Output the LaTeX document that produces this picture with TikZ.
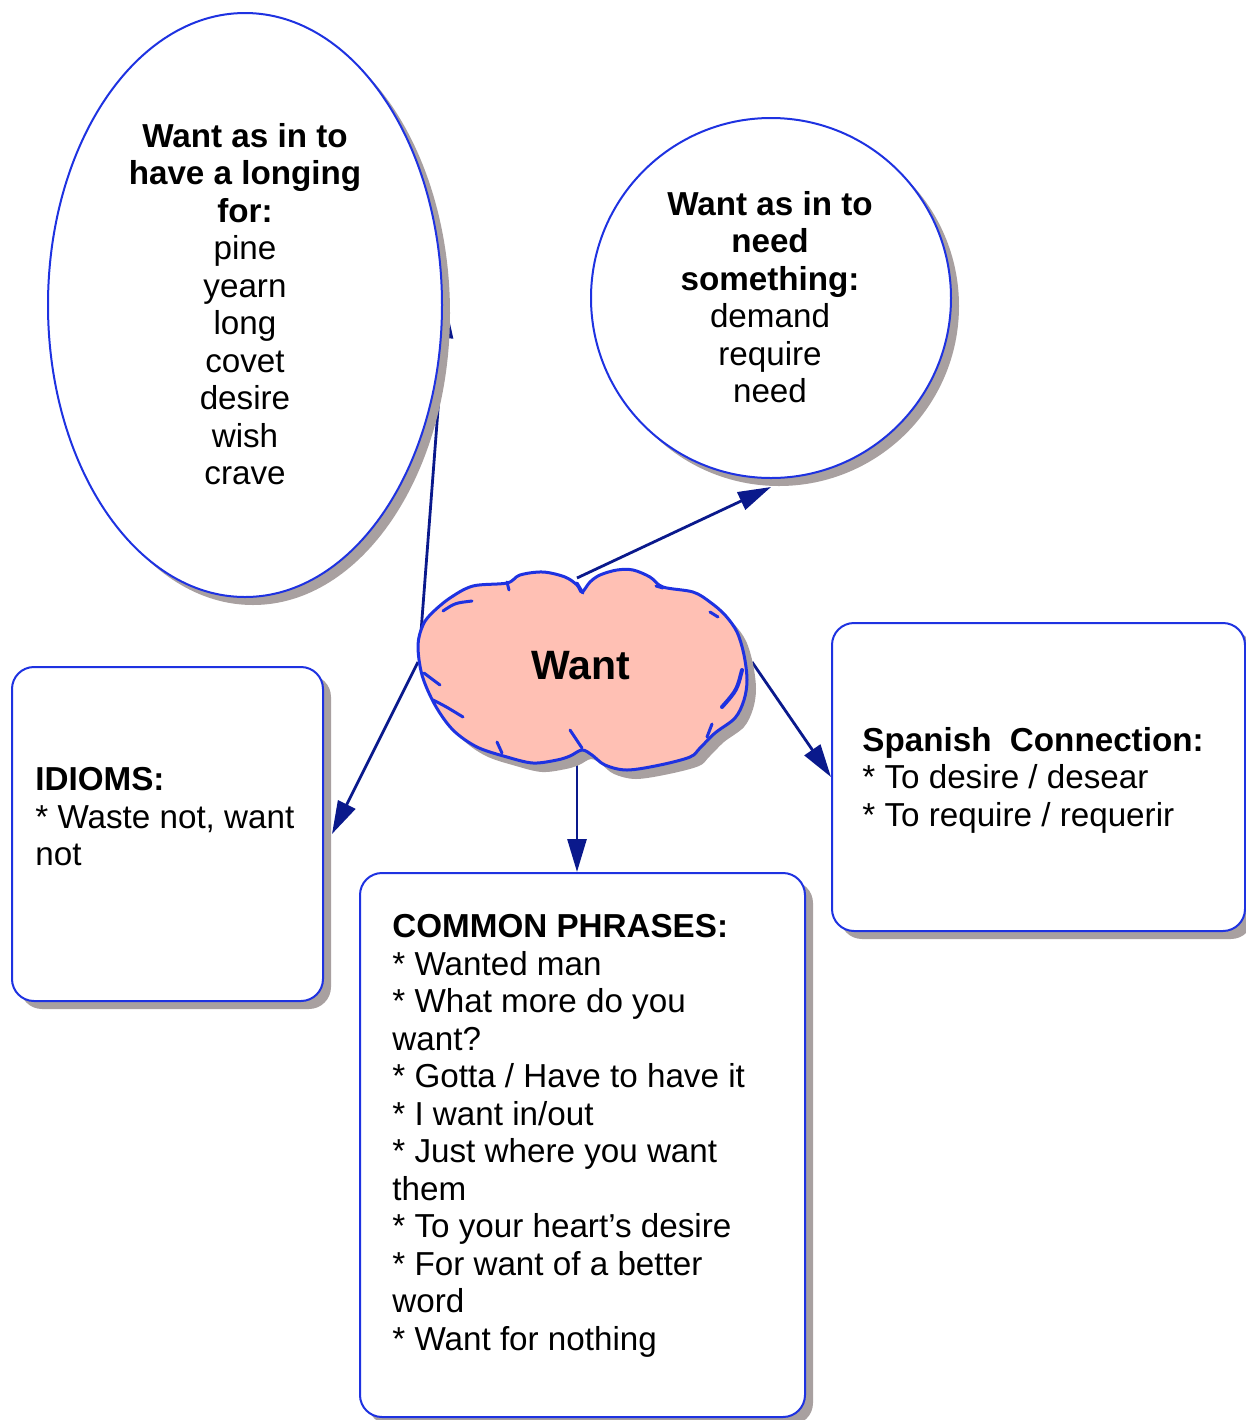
\documentclass[tikz,border=0pt]{standalone}
\usepackage{fontspec}
\setmainfont{Liberation Sans}
\usetikzlibrary{shapes.geometric,shadows,arrows.meta}
\pgfdeclarelayer{bg}
\pgfsetlayers{bg,main}
\definecolor{bordblue}{RGB}{30,50,225}
\definecolor{navy}{RGB}{10,25,140}
\definecolor{shadowgray}{RGB}{168,160,160}
\definecolor{cloudfill}{RGB}{255,192,180}
\tikzset{
  bord/.style={draw=bordblue, line width=1pt, fill=white,
    drop shadow={shadow xshift=4pt, shadow yshift=-4pt, fill=shadowgray, opacity=1}},
  roundbox/.style={bord, rectangle, rounded corners=11pt, inner sep=0pt},
  conn/.style={draw=navy, line width=1.4pt, -{Triangle[length=16.5pt,width=9.5pt]}},
  txt/.style={font=\fontsize{16.6}{18.75}\selectfont, inner sep=0pt},
  cloudline/.style={draw=bordblue, line width=1.5pt, line cap=round},
}
\begin{document}
\begin{tikzpicture}[x=0.5pt,y=-0.5pt]
\useasboundingbox (0,0) rectangle (1246,1420);

% shapes
\node[bord, ellipse, minimum width=197pt, minimum height=292pt, inner sep=0pt] (ell) at (245,305) {};
\node[bord, circle, minimum size=180pt, inner sep=0pt] (circ) at (771,298) {};
\node[roundbox, minimum width=155.5pt, minimum height=167pt] (idioms) at (167.5,834) {};
\node[roundbox, minimum width=222.5pt, minimum height=272pt] (common) at (582.5,1145) {};
\node[roundbox, minimum width=206.5pt, minimum height=154pt] (span) at (1038.5,777) {};

% cloud
\def\cloudpts{(582,592) (590,582) (600,575) (617,570) (633,570) (650,577) (663,587) (693,592) (710,602) (725,615) (737,632) (744,655) (747,680) (744,700) (735,718) (715,733) (700,748) (690,757) (660,765) (627,770) (605,765) (592,755) (582,750) (570,756) (557,760) (533,763) (507,757) (477,747) (453,730) (435,705) (422,675) (418,645) (423,625) (432,613) (450,598) (473,586) (507,583) (520,575) (543,572) (565,577) (577,585)}
\fill[shadowgray, shift={(9,9)}] plot[smooth cycle, tension=0.55] coordinates {\cloudpts};
\path[fill=cloudfill, draw=bordblue, line width=1.5pt] plot[smooth cycle, tension=0.55] coordinates {\cloudpts};
\draw[cloudline] (472,601) .. controls (455,603) .. (443,611);
\draw[cloudline] (509,590) -- (507,582);
\draw[cloudline] (583,593) -- (577,583);
\draw[cloudline] (663,588) -- (656,586);
\draw[cloudline] (718,617) -- (710,612);
\draw[cloudline, line width=2pt] (742,670) .. controls (737,690) .. (722,707);
\draw[cloudline] (712,724) -- (707,737);
\draw[cloudline] (570,730) -- (582,748);
\draw[cloudline] (497,742) -- (502,753);
\draw[cloudline] (440,685) -- (424,673);
\draw[cloudline] (463,717) .. controls (445,706) .. (433,700);

\coordinate (cE) at (421,632);
\coordinate (cI) at (418,662);
\coordinate (cC) at (577,578);
\coordinate (cS) at (752,662);
\coordinate (cP) at (577,762);

% texts
\node[font=\fontsize{20.5}{24}\selectfont\bfseries, inner sep=0pt] (wanttxt) at (581,666) {Want};
\node[txt, anchor=north, align=center] (elltxt) at (245,123) {\textbf{Want as in to}\\\textbf{have a longing}\\\textbf{for:}\\pine\\yearn\\long\\covet\\desire\\wish\\crave};
\node[txt, anchor=north, align=center] (circtxt) at (770,191) {\textbf{Want as in to}\\\textbf{need}\\\textbf{something:}\\demand\\require\\need};
\node[txt, anchor=north west, align=left] (idiomstxt) at (35,767) {\textbf{IDIOMS:}\\* Waste not, want\\not};
\node[txt, anchor=north west, align=left] (commontxt) at (392,914) {\textbf{COMMON PHRASES:}\\* Wanted man\\* What more do you\\want?\\* Gotta / Have to have it\\* I want in/out\\* Just where you want\\them\\* To your heart’s desire\\* For want of a better\\word\\* Want for nothing};
\node[txt, anchor=north west, align=left] (spantxt) at (862,727) {\textbf{Spanish\ \ Connection:}\\* To desire / desear\\* To require / requerir};

% connectors
\begin{pgfonlayer}{bg}
\draw[conn] (cE) -- ([xshift=1.5pt]ell.east);
\draw[conn] (cC) -- ([yshift=-4pt]circ.south);
\draw[conn] (cI) -- ([xshift=4pt]idioms.east);
\draw[conn] (cS) -- (span.west);
\draw[conn] (cP) -- (cP |- common.north);
\end{pgfonlayer}
\end{tikzpicture}
\end{document}
